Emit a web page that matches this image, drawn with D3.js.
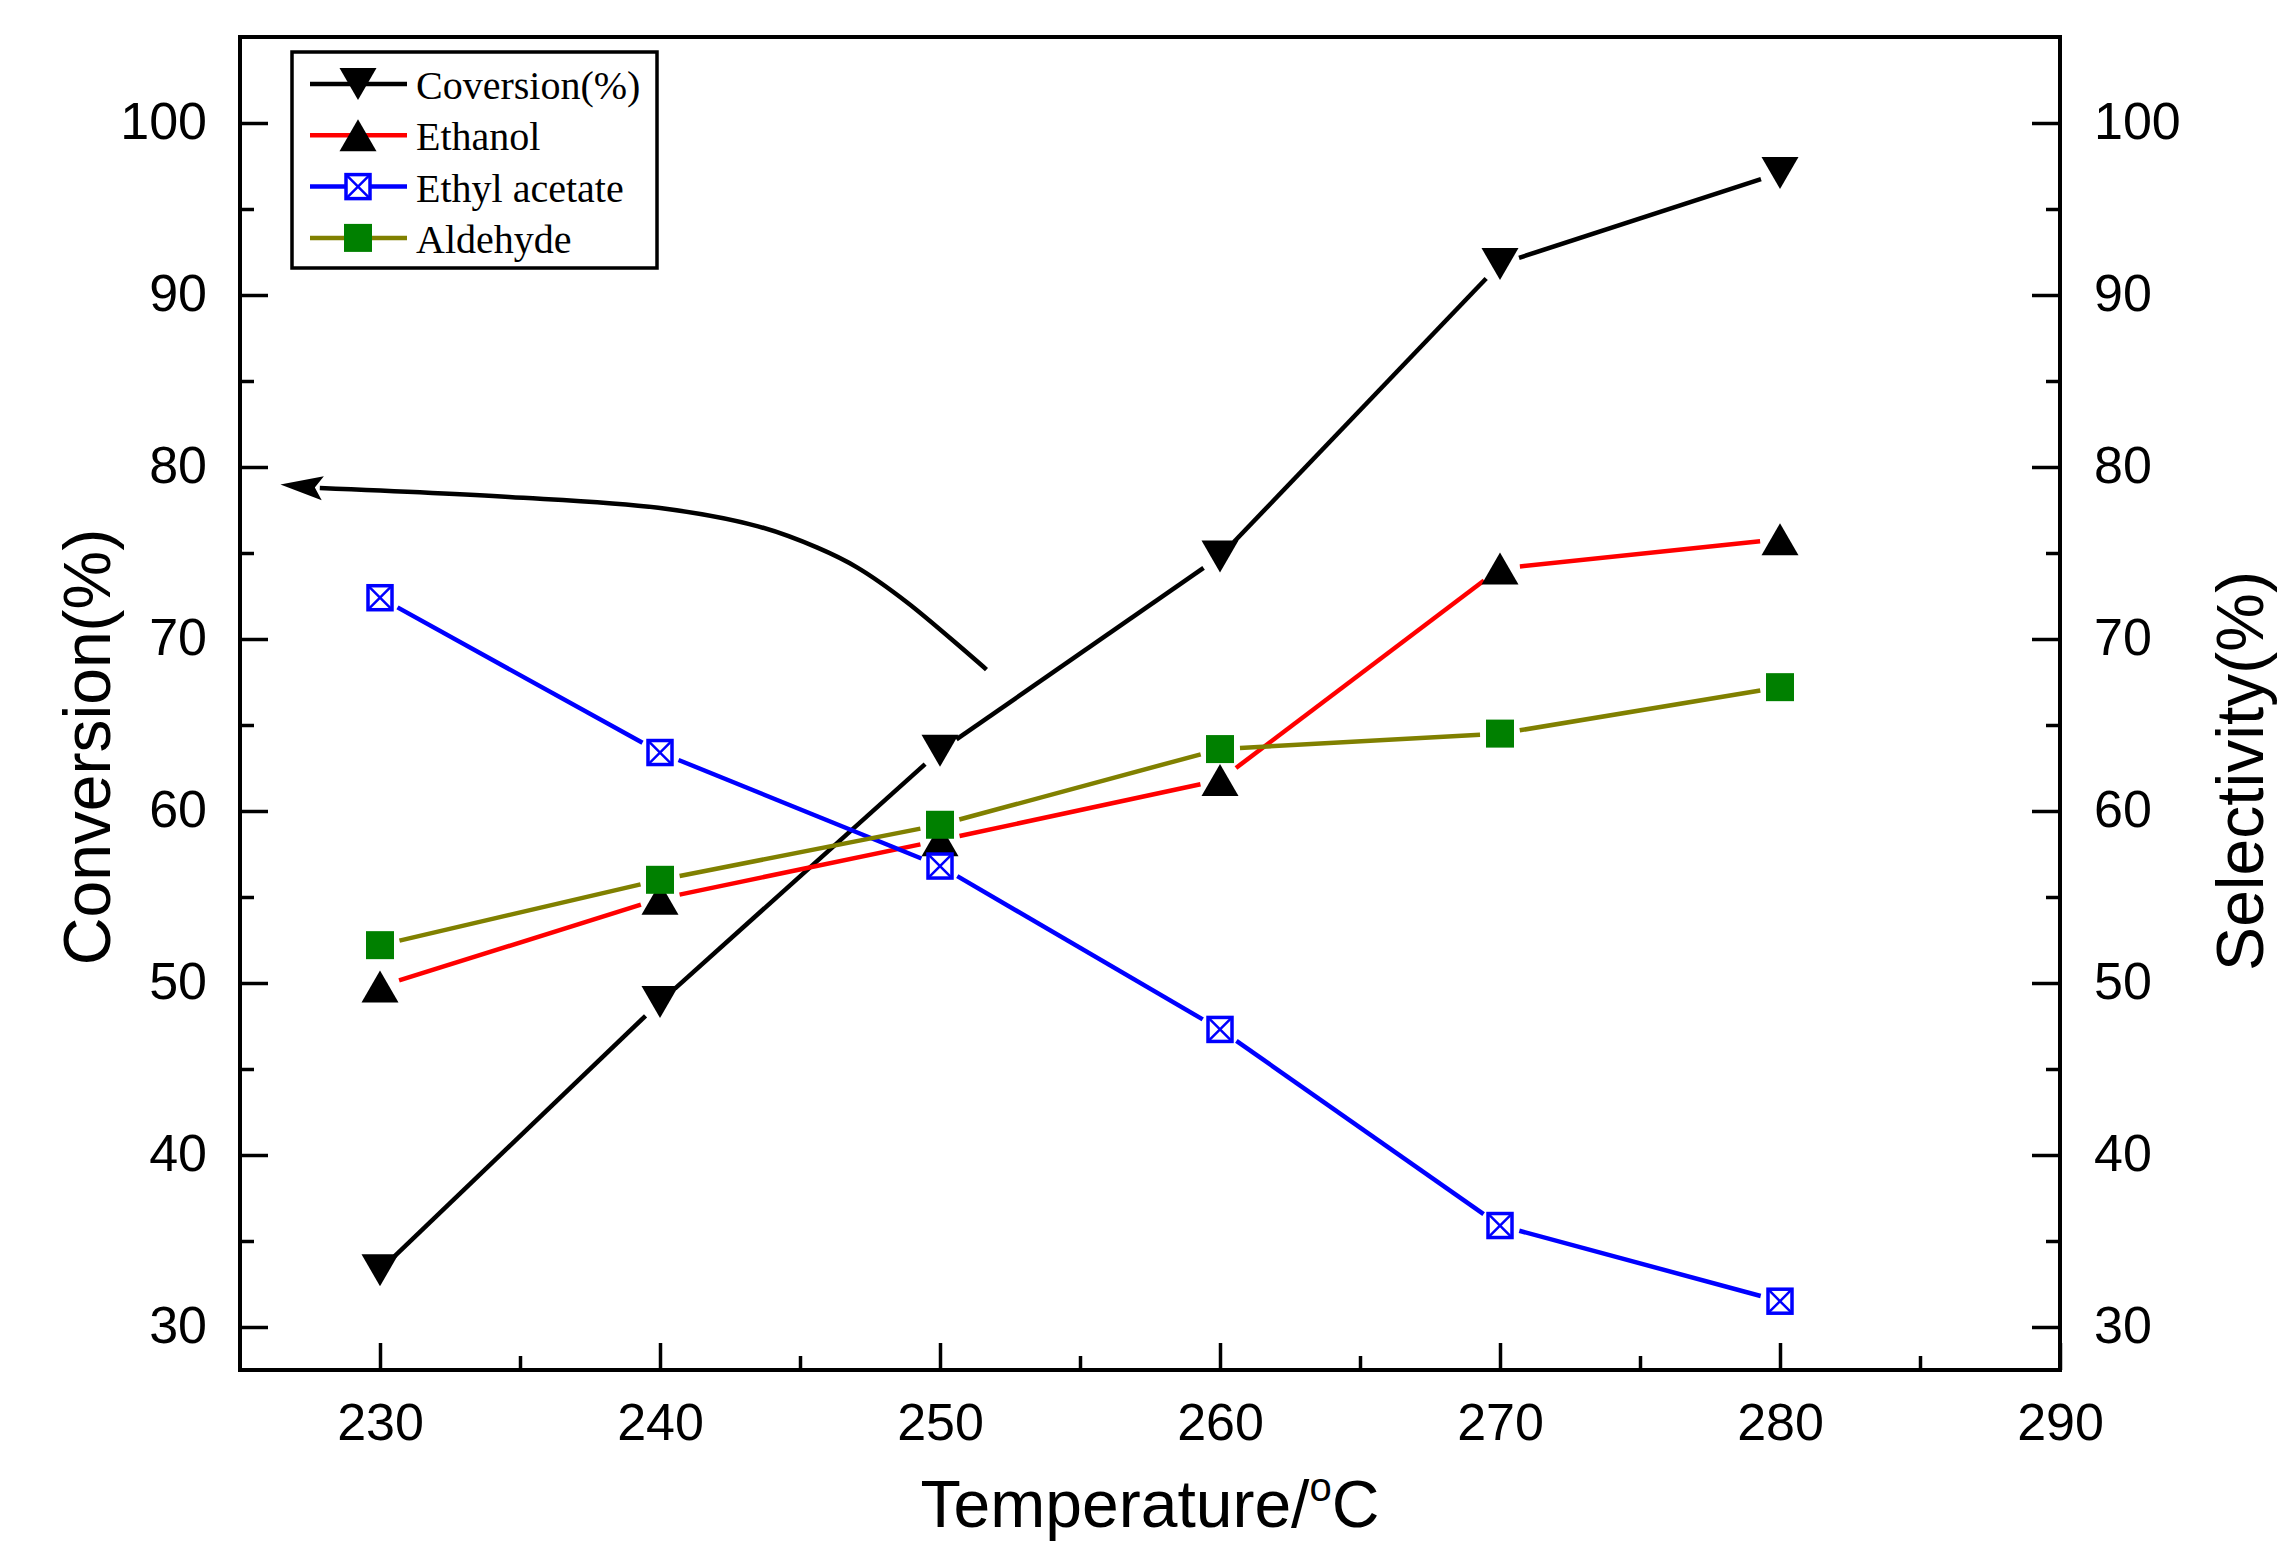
<!DOCTYPE html>
<html lang="en">
<head>
    <meta charset="UTF-8">
    <title>Conversion and selectivity vs temperature</title>
    <script src="https://d3js.org/d3.v7.min.js"></script>
    <style>
      body { margin: 0; background: #fff; }
      svg { display: block; }
      .tick text { font-family: "Liberation Sans", Arial, sans-serif; font-size: 52px; fill: #000; }
      .tick line { stroke: #000; stroke-width: 3.5; }
    </style>
</head>
<body>
    <svg id="chart"></svg>

    <script>
      // data
      var temps = [230, 240, 250, 260, 270, 280];
      var conversion = [33.3, 48.9, 63.5, 74.8, 91.8, 97.1];
      var ethanol = [49.8, 54.9, 58.3, 61.8, 74.1, 75.8];
      var ethylAcetate = [72.4, 63.4, 56.8, 47.3, 35.9, 31.5];
      var aldehyde = [52.2, 56.0, 59.2, 63.6, 64.5, 67.2];

      var seriesNames = ["Coversion(%)", "Ethanol", "Ethyl acetate", "Aldehyde"];

      var xTicks = [230, 240, 250, 260, 270, 280, 290];
      var yTicks = [30, 40, 50, 60, 70, 80, 90, 100];

      // annotation arrow (points to the conversion axis), in data units
      var arrowX = [226.55, 227.85, 234.61, 239.94, 243.50, 245.62, 247.05, 248.84, 251.66];
      var arrowY = [78.97, 78.78, 78.26, 77.63, 76.55, 75.31, 74.15, 72.11, 68.22];

      var W = 2288, H = 1557;
      var plot = { left: 240, right: 2060, top: 37, bottom: 1370 };

      var svg = d3.select("#chart")
          .attr("width", W)
          .attr("height", H);

      var x = d3.scaleLinear().domain([225, 290]).range([plot.left, plot.right]);
      var y = d3.scaleLinear().domain([27.5, 105]).range([plot.bottom, plot.top]);

      var minorX = d3.range(235, 290, 10);
      var minorY = d3.range(35, 105, 10);

      // axes, ticks pointing inward
      var gx = svg.append("g")
          .attr("transform", "translate(0," + plot.bottom + ")")
          .call(d3.axisBottom(x).tickValues(xTicks).tickSize(-27).tickPadding(33).tickSizeOuter(0));
      svg.append("g")
          .attr("transform", "translate(0," + plot.bottom + ")")
          .call(d3.axisBottom(x).tickValues(minorX).tickSize(-14).tickFormat("").tickSizeOuter(0));

      var gl = svg.append("g")
          .attr("transform", "translate(" + plot.left + ",0)")
          .call(d3.axisLeft(y).tickValues(yTicks).tickSize(-28).tickPadding(33).tickSizeOuter(0));
      svg.append("g")
          .attr("transform", "translate(" + plot.left + ",0)")
          .call(d3.axisLeft(y).tickValues(minorY).tickSize(-14).tickFormat("").tickSizeOuter(0));

      var gr = svg.append("g")
          .attr("transform", "translate(" + plot.right + ",0)")
          .call(d3.axisRight(y).tickValues(yTicks).tickSize(-28).tickPadding(34).tickSizeOuter(0));
      svg.append("g")
          .attr("transform", "translate(" + plot.right + ",0)")
          .call(d3.axisRight(y).tickValues(minorY).tickSize(-14).tickFormat("").tickSizeOuter(0));

      svg.selectAll(".domain").remove();
      gl.selectAll(".tick text").attr("dy", "0.3em");
      gr.selectAll(".tick text").attr("dy", "0.3em");

      // frame
      svg.append("rect")
          .attr("x", plot.left)
          .attr("y", plot.top)
          .attr("width", plot.right - plot.left)
          .attr("height", plot.bottom - plot.top)
          .attr("fill", "none")
          .attr("stroke", "#000")
          .attr("stroke-width", 4);

      // axis titles
      var title = svg.append("text")
          .attr("x", 1150)
          .attr("y", 1527)
          .attr("text-anchor", "middle")
          .attr("font-family", "Liberation Sans, Arial, sans-serif")
          .attr("font-size", 66);
      title.append("tspan").text("Temperature/");
      title.append("tspan").attr("dy", -26).attr("font-size", 40).text("o");
      title.append("tspan").attr("dy", 26).text("C");

      svg.append("text")
          .attr("transform", "translate(110,747) rotate(-90)")
          .attr("text-anchor", "middle")
          .attr("font-family", "Liberation Sans, Arial, sans-serif")
          .attr("font-size", 66)
          .text("Conversion(%)");

      svg.append("text")
          .attr("transform", "translate(2263,771) rotate(-90)")
          .attr("text-anchor", "middle")
          .attr("font-family", "Liberation Sans, Arial, sans-serif")
          .attr("font-size", 66)
          .text("Selectivity(%)");

      // marker shapes
      function downTri(g, fill) {
        g.append("path").attr("d", "M-18.5,-16L18.5,-16L0,16Z").attr("fill", fill);
      }
      function upTri(g, fill) {
        g.append("path").attr("d", "M-18.5,16L18.5,16L0,-16Z").attr("fill", fill);
      }
      function crossBox(g, color) {
        g.append("rect").attr("x", -12).attr("y", -12).attr("width", 24).attr("height", 24)
            .attr("fill", "#fff").attr("stroke", color).attr("stroke-width", 3.5);
        g.append("path").attr("d", "M-12,-12L12,12M12,-12L-12,12")
            .attr("stroke", color).attr("stroke-width", 2.5);
      }
      function fillBox(g, color) {
        g.append("rect").attr("x", -14).attr("y", -14).attr("width", 28).attr("height", 28)
            .attr("fill", color);
      }

      var series = [
        { name: seriesNames[0], values: conversion, line: "#000000", mark: downTri, markColor: "#000000" },
        { name: seriesNames[1], values: ethanol, line: "#ff0000", mark: upTri, markColor: "#000000" },
        { name: seriesNames[2], values: ethylAcetate, line: "#0000ff", mark: crossBox, markColor: "#0000ff" },
        { name: seriesNames[3], values: aldehyde, line: "#808000", mark: fillBox, markColor: "#008000" }
      ];

      var gap = 20;

      // lines, broken around each marker
      series.forEach(function (s) {
        var g = svg.append("g");
        for (var i = 0; i < temps.length - 1; i++) {
          var x0 = x(temps[i]), y0 = y(s.values[i]);
          var x1 = x(temps[i + 1]), y1 = y(s.values[i + 1]);
          var len = Math.hypot(x1 - x0, y1 - y0);
          var ux = (x1 - x0) / len, uy = (y1 - y0) / len;
          g.append("line")
              .attr("x1", x0 + ux * gap).attr("y1", y0 + uy * gap)
              .attr("x2", x1 - ux * gap).attr("y2", y1 - uy * gap)
              .attr("stroke", s.line)
              .attr("stroke-width", 4.5);
        }
      });

      // markers
      series.forEach(function (s) {
        temps.forEach(function (t, i) {
          var m = svg.append("g").attr("transform", "translate(" + x(t) + "," + y(s.values[i]) + ")");
          s.mark(m, s.markColor);
        });
      });

      // curved arrow
      var arrowPts = arrowX.map(function (d, i) { return [x(d), y(arrowY[i])]; });
      svg.append("path")
          .attr("d", d3.line().curve(d3.curveCatmullRom)(arrowPts.slice(1)))
          .attr("fill", "none")
          .attr("stroke", "#000")
          .attr("stroke-width", 4.5);
      var tip = arrowPts[0], base = arrowPts[1];
      var dx = base[0] - tip[0], dy = base[1] - tip[1];
      var dl = Math.hypot(dx, dy);
      var nx = -dy / dl * 12, ny = dx / dl * 12;
      svg.append("path")
          .attr("d", "M" + (tip[0] - dx / dl * 3) + "," + (tip[1] - dy / dl * 3) +
                     "L" + (base[0] + dx / dl * 3 + nx) + "," + (base[1] + dy / dl * 3 + ny) +
                     "L" + (base[0] - dx / dl * 5) + "," + (base[1] - dy / dl * 5) +
                     "L" + (base[0] + dx / dl * 3 - nx) + "," + (base[1] + dy / dl * 3 - ny) + "Z")
          .attr("fill", "#000");

      // legend
      var legend = svg.append("g");
      legend.append("rect")
          .attr("x", 292).attr("y", 52)
          .attr("width", 365).attr("height", 216)
          .attr("fill", "#fff")
          .attr("stroke", "#000")
          .attr("stroke-width", 3.5);

      series.forEach(function (s, i) {
        var cy = 84 + i * 51.3;
        var row = legend.append("g");
        row.append("line")
            .attr("x1", 310).attr("x2", 407)
            .attr("y1", cy).attr("y2", cy)
            .attr("stroke", s.line)
            .attr("stroke-width", 4.5);
        s.mark(row.append("g").attr("transform", "translate(358," + cy + ")"), s.markColor);
        row.append("text")
            .attr("x", 416)
            .attr("y", cy + 15)
            .attr("font-family", "Liberation Serif, Times New Roman, serif")
            .attr("font-size", 40)
            .text(s.name);
      });
    </script>
</body>
</html>
